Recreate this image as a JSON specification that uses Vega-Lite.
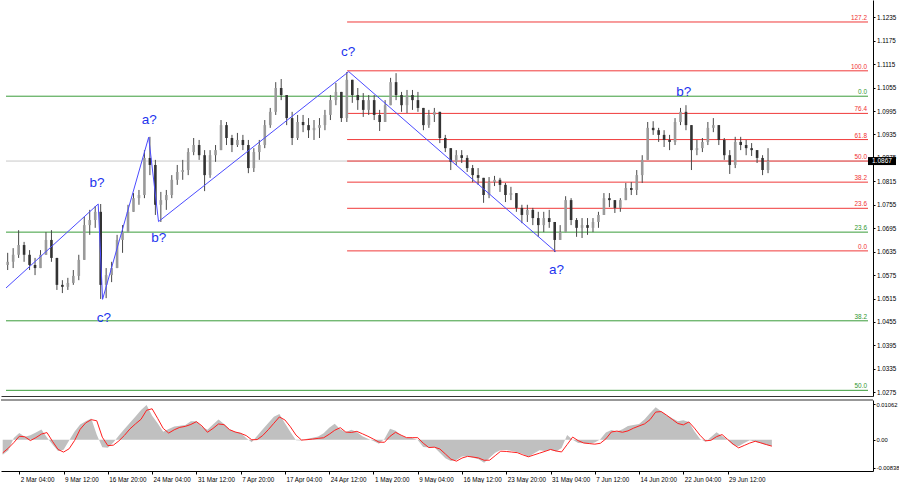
{
  "$schema": "https://vega.github.io/schema/vega-lite/v6.json",
  "padding": 0,
  "background": "white",
  "spacing": 3,
  "config": {
    "view": {"stroke": null},
    "font": "Liberation Sans",
    "axis": {"labelFont": "Liberation Sans", "labelColor": "#000", "tickColor": "#000", "domainColor": "#000", "grid": false, "title": null}
  },
  "datasets": {
    "bars": [
      {"t":20,"o":1.0601,"h":1.0632,"l":1.0588,"c":1.0609,"m":-0.00453,"s":-0.00396},
      {"t":24,"o":1.0609,"h":1.0644,"l":1.0593,"c":1.0627,"m":-0.00327,"s":-0.00258},
      {"t":28,"o":1.0627,"h":1.0690,"l":1.0619,"c":1.0652,"m":0.00051,"s":-0.0009},
      {"t":32,"o":1.0652,"h":1.0660,"l":1.0609,"c":1.0627,"m":0.00201,"s":0.00102},
      {"t":36,"o":1.0627,"h":1.0639,"l":1.0588,"c":1.0601,"m":0.00087,"s":0.00087},
      {"t":40,"o":1.0601,"h":1.0619,"l":1.0575,"c":1.0593,"m":0.00129,"s":-0.00027},
      {"t":44,"o":1.0593,"h":1.0639,"l":1.0593,"c":1.0627,"m":0.00216,"s":0.0006},
      {"t":48,"o":1.0627,"h":1.0685,"l":1.0627,"c":1.0665,"m":0.00303,"s":0.00168},
      {"t":52,"o":1.0665,"h":1.0690,"l":1.0609,"c":1.0619,"m":0.00066,"s":0.00213},
      {"t":56,"o":1.0619,"h":1.0619,"l":1.0537,"c":1.0550,"m":-0.00147,"s":-0.00051},
      {"t":60,"o":1.0550,"h":1.0562,"l":1.0529,"c":1.0545,"m":-0.00339,"s":-0.00294},
      {"t":64,"o":1.0545,"h":1.0568,"l":1.0537,"c":1.0555,"m":-0.003,"s":-0.00372},
      {"t":68,"o":1.0555,"h":1.0588,"l":1.0550,"c":1.0573,"m":-0.00027,"s":-0.00273},
      {"t":72,"o":1.0573,"h":1.0627,"l":1.0562,"c":1.0614,"m":0.00243,"s":-0.00024},
      {"t":76,"o":1.0614,"h":1.0724,"l":1.0614,"c":1.0703,"m":0.00453,"s":0.00312},
      {"t":80,"o":1.0703,"h":1.0742,"l":1.0678,"c":1.0716,"m":0.00552,"s":0.00504},
      {"t":84,"o":1.0716,"h":1.0752,"l":1.0696,"c":1.0737,"m":0.00633,"s":0.006},
      {"t":88,"o":1.0737,"h":1.0757,"l":1.0514,"c":1.0550,"m":0.00147,"s":0.00567},
      {"t":92,"o":1.0550,"h":1.0593,"l":1.0516,"c":1.0575,"m":-0.00225,"s":0.00075},
      {"t":96,"o":1.0575,"h":1.0609,"l":1.0557,"c":1.0593,"m":-0.00246,"s":-0.0018},
      {"t":100,"o":1.0593,"h":1.0678,"l":1.0593,"c":1.0665,"m":-0.00084,"s":-0.00165},
      {"t":104,"o":1.0665,"h":1.0703,"l":1.0632,"c":1.0685,"m":0.00123,"s":-0.00036},
      {"t":108,"o":1.0685,"h":1.0755,"l":1.0685,"c":1.0737,"m":0.00318,"s":0.00129},
      {"t":112,"o":1.0737,"h":1.0785,"l":1.0737,"c":1.0772,"m":0.00507,"s":0.00324},
      {"t":116,"o":1.0772,"h":1.0793,"l":1.0755,"c":1.0780,"m":0.00693,"s":0.00474},
      {"t":120,"o":1.0780,"h":1.0895,"l":1.0772,"c":1.0875,"m":0.00891,"s":0.00612},
      {"t":124,"o":1.0875,"h":1.0929,"l":1.0831,"c":1.0857,"m":0.01041,"s":0.00882},
      {"t":128,"o":1.0857,"h":1.0870,"l":1.0729,"c":1.0755,"m":0.0072,"s":0.00927},
      {"t":132,"o":1.0755,"h":1.0788,"l":1.0711,"c":1.0767,"m":0.00489,"s":0.00639},
      {"t":136,"o":1.0767,"h":1.0793,"l":1.0742,"c":1.0780,"m":0.0024,"s":0.00339},
      {"t":140,"o":1.0780,"h":1.0831,"l":1.0772,"c":1.0819,"m":0.00321,"s":0.00198},
      {"t":144,"o":1.0819,"h":1.0857,"l":1.0806,"c":1.0839,"m":0.00393,"s":0.00297},
      {"t":148,"o":1.0839,"h":1.0870,"l":1.0819,"c":1.0844,"m":0.00414,"s":0.00369},
      {"t":152,"o":1.0844,"h":1.0900,"l":1.0831,"c":1.0890,"m":0.00438,"s":0.00399},
      {"t":156,"o":1.0890,"h":1.0926,"l":1.0882,"c":1.0908,"m":0.00549,"s":0.00456},
      {"t":160,"o":1.0908,"h":1.0921,"l":1.0870,"c":1.0882,"m":0.00552,"s":0.0054},
      {"t":164,"o":1.0882,"h":1.0895,"l":1.0790,"c":1.0831,"m":0.00384,"s":0.00414},
      {"t":168,"o":1.0831,"h":1.0895,"l":1.0824,"c":1.0882,"m":0.003,"s":0.00222},
      {"t":172,"o":1.0882,"h":1.0908,"l":1.0865,"c":1.0895,"m":0.00453,"s":0.00336},
      {"t":176,"o":1.0895,"h":1.0972,"l":1.0895,"c":1.0959,"m":0.00606,"s":0.00471},
      {"t":180,"o":1.0959,"h":1.0967,"l":1.0908,"c":1.0926,"m":0.00471,"s":0.0045},
      {"t":184,"o":1.0926,"h":1.0934,"l":1.0890,"c":1.0908,"m":0.00306,"s":0.003},
      {"t":188,"o":1.0908,"h":1.0939,"l":1.0903,"c":1.0921,"m":0.00237,"s":0.00231},
      {"t":192,"o":1.0921,"h":1.0934,"l":1.0895,"c":1.0908,"m":0.00204,"s":0.00189},
      {"t":196,"o":1.0908,"h":1.0921,"l":1.0836,"c":1.0849,"m":0.00048,"s":0.00123},
      {"t":200,"o":1.0849,"h":1.0900,"l":1.0839,"c":1.0890,"m":-0.00075,"s":-0.00003},
      {"t":204,"o":1.0890,"h":1.0921,"l":1.0870,"c":1.0908,"m":0.00117,"s":0.00003},
      {"t":208,"o":1.0908,"h":1.0972,"l":1.0900,"c":1.0959,"m":0.00309,"s":0.00126},
      {"t":212,"o":1.0959,"h":1.1003,"l":1.0952,"c":1.0993,"m":0.00501,"s":0.003},
      {"t":216,"o":1.0993,"h":1.1069,"l":1.0985,"c":1.1054,"m":0.00687,"s":0.00492},
      {"t":220,"o":1.1054,"h":1.1077,"l":1.1023,"c":1.1036,"m":0.00768,"s":0.00681},
      {"t":224,"o":1.1036,"h":1.1036,"l":1.0959,"c":1.0977,"m":0.00495,"s":0.00591},
      {"t":228,"o":1.0977,"h":1.0993,"l":1.0908,"c":1.0926,"m":0.00231,"s":0.00384},
      {"t":232,"o":1.0926,"h":1.0985,"l":1.0921,"c":1.0967,"m":-0.00021,"s":0.00138},
      {"t":236,"o":1.0967,"h":1.0985,"l":1.0941,"c":1.0959,"m":-0.00024,"s":-0.00012},
      {"t":240,"o":1.0959,"h":1.0977,"l":1.0926,"c":1.0946,"m":0.00027,"s":0},
      {"t":244,"o":1.0946,"h":1.0972,"l":1.0921,"c":1.0952,"m":0.0006,"s":0.00018},
      {"t":248,"o":1.0952,"h":1.0977,"l":1.0926,"c":1.0959,"m":0.00093,"s":0.00039},
      {"t":252,"o":1.0959,"h":1.0998,"l":1.0946,"c":1.0985,"m":0.00189,"s":0.00057},
      {"t":256,"o":1.0985,"h":1.1036,"l":1.0972,"c":1.1023,"m":0.00354,"s":0.00162},
      {"t":260,"o":1.1023,"h":1.1067,"l":1.1010,"c":1.1044,"m":0.0048,"s":0.00282},
      {"t":264,"o":1.1044,"h":1.1044,"l":1.0967,"c":1.0977,"m":0.00315,"s":0.0036},
      {"t":268,"o":1.0977,"h":1.1095,"l":1.0967,"c":1.1075,"m":0.00225,"s":0.00228},
      {"t":272,"o":1.1075,"h":1.1075,"l":1.1016,"c":1.1036,"m":0.00297,"s":0.00216},
      {"t":276,"o":1.1036,"h":1.1054,"l":1.0998,"c":1.1023,"m":0.00231,"s":0.00249},
      {"t":280,"o":1.1023,"h":1.1041,"l":1.0980,"c":1.0998,"m":0.00099,"s":0.00177},
      {"t":284,"o":1.0998,"h":1.1036,"l":1.0985,"c":1.1023,"m":0.00024,"s":0.00102},
      {"t":288,"o":1.1023,"h":1.1036,"l":1.0972,"c":1.0985,"m":-0.00039,"s":0.00018},
      {"t":292,"o":1.0985,"h":1.0998,"l":1.0944,"c":1.0967,"m":-0.0012,"s":-0.00075},
      {"t":296,"o":1.0967,"h":1.1023,"l":1.0967,"c":1.1010,"m":0.0003,"s":-0.00078},
      {"t":300,"o":1.1010,"h":1.1080,"l":1.1010,"c":1.1069,"m":0.00327,"s":0.00102},
      {"t":304,"o":1.1069,"h":1.1092,"l":1.1023,"c":1.1036,"m":0.00267,"s":0.00222},
      {"t":308,"o":1.1036,"h":1.1044,"l":1.0993,"c":1.1010,"m":0.00126,"s":0.00135},
      {"t":312,"o":1.1010,"h":1.1049,"l":1.0990,"c":1.1036,"m":0.00051,"s":0.0006},
      {"t":316,"o":1.1036,"h":1.1049,"l":1.0998,"c":1.1023,"m":0.00051,"s":0.0006},
      {"t":320,"o":1.1023,"h":1.1044,"l":1.0993,"c":1.1003,"m":-0.00012,"s":0.0006},
      {"t":324,"o":1.1003,"h":1.1003,"l":1.0946,"c":1.0959,"m":-0.00219,"s":-0.00105},
      {"t":328,"o":1.0959,"h":1.0998,"l":1.0952,"c":1.0985,"m":-0.00234,"s":-0.00237},
      {"t":332,"o":1.0985,"h":1.1003,"l":1.0967,"c":1.0993,"m":-0.00228,"s":-0.00225},
      {"t":336,"o":1.0993,"h":1.0993,"l":1.0913,"c":1.0926,"m":-0.00393,"s":-0.00279},
      {"t":340,"o":1.0926,"h":1.0934,"l":1.0890,"c":1.0900,"m":-0.00558,"s":-0.00429},
      {"t":344,"o":1.0900,"h":1.0900,"l":1.0844,"c":1.0865,"m":-0.00639,"s":-0.00585},
      {"t":348,"o":1.0865,"h":1.0895,"l":1.0857,"c":1.0882,"m":-0.00612,"s":-0.00645},
      {"t":352,"o":1.0882,"h":1.0895,"l":1.0862,"c":1.0875,"m":-0.00507,"s":-0.00552},
      {"t":356,"o":1.0875,"h":1.0882,"l":1.0839,"c":1.0849,"m":-0.00495,"s":-0.00501},
      {"t":360,"o":1.0849,"h":1.0857,"l":1.0813,"c":1.0831,"m":-0.0054,"s":-0.00522},
      {"t":364,"o":1.0831,"h":1.0849,"l":1.0806,"c":1.0824,"m":-0.00588,"s":-0.00549},
      {"t":368,"o":1.0824,"h":1.0824,"l":1.0760,"c":1.0780,"m":-0.00696,"s":-0.00618},
      {"t":372,"o":1.0780,"h":1.0826,"l":1.0772,"c":1.0813,"m":-0.00543,"s":-0.00615},
      {"t":376,"o":1.0813,"h":1.0829,"l":1.0803,"c":1.0819,"m":-0.00393,"s":-0.0048},
      {"t":380,"o":1.0819,"h":1.0824,"l":1.0788,"c":1.0806,"m":-0.00309,"s":-0.00345},
      {"t":384,"o":1.0806,"h":1.0811,"l":1.0762,"c":1.0780,"m":-0.00309,"s":-0.00354},
      {"t":388,"o":1.0780,"h":1.0801,"l":1.0767,"c":1.0785,"m":-0.00342,"s":-0.00372},
      {"t":392,"o":1.0785,"h":1.0785,"l":1.0737,"c":1.0747,"m":-0.00378,"s":-0.0039},
      {"t":396,"o":1.0747,"h":1.0755,"l":1.0708,"c":1.0729,"m":-0.00429,"s":-0.00456},
      {"t":400,"o":1.0729,"h":1.0755,"l":1.0711,"c":1.0742,"m":-0.00513,"s":-0.00513},
      {"t":404,"o":1.0742,"h":1.0747,"l":1.0703,"c":1.0721,"m":-0.00414,"s":-0.00459},
      {"t":408,"o":1.0721,"h":1.0737,"l":1.0673,"c":1.0703,"m":-0.00321,"s":-0.00405},
      {"t":412,"o":1.0703,"h":1.0737,"l":1.0685,"c":1.0721,"m":-0.00339,"s":-0.00351},
      {"t":416,"o":1.0721,"h":1.0742,"l":1.0696,"c":1.0711,"m":-0.003,"s":-0.00294},
      {"t":420,"o":1.0711,"h":1.0711,"l":1.0634,"c":1.0665,"m":-0.00354,"s":-0.00339},
      {"t":424,"o":1.0665,"h":1.0703,"l":1.0665,"c":1.0685,"m":-0.00252,"s":-0.00369},
      {"t":428,"o":1.0685,"h":1.0777,"l":1.0685,"c":1.0767,"m":0.00141,"s":-0.00147},
      {"t":432,"o":1.0767,"h":1.0772,"l":1.0703,"c":1.0716,"m":-0.00006,"s":0.00078},
      {"t":436,"o":1.0716,"h":1.0721,"l":1.0673,"c":1.0696,"m":-0.00099,"s":-0.0003},
      {"t":440,"o":1.0696,"h":1.0721,"l":1.0670,"c":1.0703,"m":-0.00111,"s":-0.00099},
      {"t":444,"o":1.0703,"h":1.0721,"l":1.0678,"c":1.0696,"m":-0.00126,"s":-0.00117},
      {"t":448,"o":1.0696,"h":1.0721,"l":1.0685,"c":1.0711,"m":-0.00087,"s":-0.00135},
      {"t":452,"o":1.0711,"h":1.0737,"l":1.0696,"c":1.0729,"m":0.00009,"s":-0.00108},
      {"t":456,"o":1.0729,"h":1.0785,"l":1.0729,"c":1.0772,"m":0.00213,"s":0.00024},
      {"t":460,"o":1.0772,"h":1.0785,"l":1.0749,"c":1.0767,"m":0.00291,"s":0.00231},
      {"t":464,"o":1.0767,"h":1.0767,"l":1.0734,"c":1.0747,"m":0.00243,"s":0.00258},
      {"t":468,"o":1.0747,"h":1.0772,"l":1.0737,"c":1.0767,"m":0.00309,"s":0.00222},
      {"t":472,"o":1.0767,"h":1.0811,"l":1.0767,"c":1.0798,"m":0.00408,"s":0.00264},
      {"t":476,"o":1.0798,"h":1.0813,"l":1.0780,"c":1.0793,"m":0.00441,"s":0.00345},
      {"t":480,"o":1.0793,"h":1.0844,"l":1.0780,"c":1.0831,"m":0.00471,"s":0.00411},
      {"t":484,"o":1.0831,"h":1.0882,"l":1.0811,"c":1.0870,"m":0.00612,"s":0.00474},
      {"t":488,"o":1.0870,"h":1.0967,"l":1.0870,"c":1.0952,"m":0.00798,"s":0.00603},
      {"t":492,"o":1.0952,"h":1.0969,"l":1.0934,"c":1.0946,"m":0.00969,"s":0.00828},
      {"t":496,"o":1.0946,"h":1.0952,"l":1.0916,"c":1.0934,"m":0.00849,"s":0.00843},
      {"t":500,"o":1.0934,"h":1.0946,"l":1.0903,"c":1.0921,"m":0.00732,"s":0.00732},
      {"t":504,"o":1.0921,"h":1.0934,"l":1.0895,"c":1.0916,"m":0.00642,"s":0.00609},
      {"t":508,"o":1.0916,"h":1.0977,"l":1.0908,"c":1.0967,"m":0.00552,"s":0.00486},
      {"t":512,"o":1.0967,"h":1.1003,"l":1.0959,"c":1.0993,"m":0.00579,"s":0.00444},
      {"t":516,"o":1.0993,"h":1.1010,"l":1.0946,"c":1.0959,"m":0.00528,"s":0.00531},
      {"t":520,"o":1.0959,"h":1.0959,"l":1.0844,"c":1.0895,"m":0.00249,"s":0.00348},
      {"t":524,"o":1.0895,"h":1.0921,"l":1.0882,"c":1.0900,"m":0.00024,"s":0.00135},
      {"t":528,"o":1.0900,"h":1.0926,"l":1.0890,"c":1.0916,"m":-0.0006,"s":-0.00036},
      {"t":532,"o":1.0916,"h":1.0967,"l":1.0908,"c":1.0952,"m":0.00078,"s":-0.00018},
      {"t":536,"o":1.0952,"h":1.0977,"l":1.0941,"c":1.0959,"m":0.00222,"s":0.0009},
      {"t":540,"o":1.0959,"h":1.0959,"l":1.0908,"c":1.0921,"m":0.00111,"s":0.00153},
      {"t":544,"o":1.0921,"h":1.0926,"l":1.0870,"c":1.0882,"m":0,"s":0.00009},
      {"t":548,"o":1.0882,"h":1.0895,"l":1.0834,"c":1.0857,"m":-0.00159,"s":-0.00135},
      {"t":552,"o":1.0857,"h":1.0929,"l":1.0849,"c":1.0916,"m":-0.00201,"s":-0.00246},
      {"t":556,"o":1.0916,"h":1.0929,"l":1.0895,"c":1.0908,"m":-0.00099,"s":-0.00174},
      {"t":560,"o":1.0908,"h":1.0921,"l":1.0882,"c":1.0900,"m":-0.00015,"s":-0.00102},
      {"t":564,"o":1.0900,"h":1.0913,"l":1.0880,"c":1.0895,"m":-0.00063,"s":-0.00048},
      {"t":568,"o":1.0895,"h":1.0895,"l":1.0862,"c":1.0875,"m":-0.00111,"s":-0.00096},
      {"t":572,"o":1.0875,"h":1.0882,"l":1.0831,"c":1.0844,"m":-0.00159,"s":-0.00147},
      {"t":576,"o":1.0844,"h":1.0900,"l":1.0836,"c":1.0867,"m":-0.00189,"s":-0.00195}
    ],
    "fibR": [
      {"t0":268.2,"p":1.1223,"lbl":"127.2"},
      {"t0":268.2,"p":1.1098,"lbl":"100.0"},
      {"t0":268.2,"p":1.0989,"lbl":"76.4"},
      {"t0":268.2,"p":1.0922,"lbl":"61.8"},
      {"t0":268.2,"p":1.0867,"lbl":"50.0"},
      {"t0":268.2,"p":1.0813,"lbl":"38.2"},
      {"t0":268.2,"p":1.0746,"lbl":"23.6"},
      {"t0":268.2,"p":1.0637,"lbl":"0.0"}
    ],
    "fibG": [
      {"t0":18.77,"p":1.1033,"lbl":"0.0"},
      {"t0":18.77,"p":1.0685,"lbl":"23.6"},
      {"t0":18.77,"p":1.0458,"lbl":"38.2"},
      {"t0":18.77,"p":1.0280,"lbl":"50.0"}
    ],
    "wave": [
      {"k":1,"t":18.77,"p":1.0542},
      {"k":2,"t":86.2,"p":1.0757},
      {"k":3,"t":89.4,"p":1.0513},
      {"k":4,"t":123.1,"p":1.0928},
      {"k":5,"t":130.3,"p":1.0712},
      {"k":6,"t":269.4,"p":1.1096},
      {"k":7,"t":420.7,"p":1.0635}
    ],
    "waveLbl": [
      {"t":85.3,"p":1.0811,"lbl":"b?"},
      {"t":90.3,"p":1.0465,"lbl":"c?"},
      {"t":123.6,"p":1.0971,"lbl":"a?"},
      {"t":130.5,"p":1.0670,"lbl":"b?"},
      {"t":268.9,"p":1.1147,"lbl":"c?"},
      {"t":421.4,"p":1.0588,"lbl":"a?"},
      {"t":514.3,"p":1.1044,"lbl":"b?"}
    ]
  },
  "vconcat": [
    {
      "width": 872,
      "height": 396,
      "layer": [
        {
          "data": {"name": "fibG"},
          "mark": {"type": "rule", "color": "#3a9c3a", "strokeWidth": 1, "clip": true},
          "encoding": {
            "x": {"field": "t0", "type": "quantitative", "scale": {"domain": [18.77, 649.1], "nice": false, "zero": false},
                  "axis": {"orient": "bottom", "labels": false, "ticks": false, "domain": true, "domainColor": "#333", "title": null, "grid": false}},
            "x2": {"datum": 649.1},
            "y": {"field": "p", "type": "quantitative", "scale": {"domain": [1.02655, 1.12793], "nice": false, "zero": false},
                  "axis": {"orient": "right", "values": [1.1235,1.1175,1.1115,1.1055,1.0995,1.0935,1.0875,1.0815,1.0755,1.0695,1.0635,1.0575,1.0515,1.0455,1.0395,1.0335,1.0275],
                           "tickCount": 100, "format": ".4f", "title": null, "grid": false, "tickSize": 2, "labelFontSize": 6.3, "labelPadding": 1.5, "labelOverlap": false, "labelFlush": false, "domainColor": "#000"}}
          }
        },
        {
          "data": {"values": [{"t0": 18.77, "p": 1.0867}]},
          "mark": {"type": "rule", "color": "#c8c8c8", "strokeWidth": 1, "clip": true},
          "encoding": {
            "x": {"field": "t0", "type": "quantitative"},
            "x2": {"datum": 649.1},
            "y": {"field": "p", "type": "quantitative"}
          }
        },
        {
          "data": {"name": "fibR"},
          "mark": {"type": "rule", "color": "#f03a3a", "strokeWidth": 1, "clip": true},
          "encoding": {
            "x": {"field": "t0", "type": "quantitative"},
            "x2": {"datum": 649.1},
            "y": {"field": "p", "type": "quantitative"}
          }
        },
        {
          "data": {"name": "fibR"},
          "mark": {"type": "text", "color": "#f03030", "fontSize": 6.4, "align": "right", "baseline": "bottom", "dx": -1, "dy": -1},
          "encoding": {
            "x": {"datum": 649.1},
            "y": {"field": "p", "type": "quantitative"},
            "text": {"field": "lbl"}
          }
        },
        {
          "data": {"name": "fibG"},
          "mark": {"type": "text", "color": "#2e962e", "fontSize": 6.4, "align": "right", "baseline": "bottom", "dx": -1, "dy": -1},
          "encoding": {
            "x": {"datum": 649.1},
            "y": {"field": "p", "type": "quantitative"},
            "text": {"field": "lbl"}
          }
        },
        {
          "data": {"name": "bars"},
          "mark": {"type": "rule", "color": "#484848", "strokeWidth": 1, "clip": true},
          "encoding": {
            "x": {"field": "t", "type": "quantitative"},
            "y": {"field": "l", "type": "quantitative"},
            "y2": {"field": "h"}
          }
        },
        {
          "data": {"name": "bars"},
          "mark": {"type": "bar", "size": 2.6, "clip": true},
          "encoding": {
            "x": {"field": "t", "type": "quantitative"},
            "y": {"field": "o", "type": "quantitative"},
            "y2": {"field": "c"},
            "color": {"condition": {"test": "datum.c >= datum.o", "value": "#9a9a9a"}, "value": "#333333"}
          }
        },
        {
          "data": {"name": "wave"},
          "mark": {"type": "line", "color": "#4b4bff", "strokeWidth": 1, "clip": true},
          "encoding": {
            "x": {"field": "t", "type": "quantitative"},
            "y": {"field": "p", "type": "quantitative"},
            "order": {"field": "k", "type": "quantitative"}
          }
        },
        {
          "data": {"name": "waveLbl"},
          "mark": {"type": "text", "color": "#2233ee", "fontSize": 13.5, "align": "center", "baseline": "middle"},
          "encoding": {
            "x": {"field": "t", "type": "quantitative"},
            "y": {"field": "p", "type": "quantitative"},
            "text": {"field": "lbl"}
          }
        },
        {
          "data": {"values": [{"p": 1.0867}]},
          "mark": {"type": "rect", "color": "#000", "clip": false, "x2Offset": 28, "yOffset": -4, "y2Offset": 4},
          "encoding": {
            "x": {"datum": 649.1},
            "x2": {"datum": 649.1},
            "y": {"field": "p", "type": "quantitative"},
            "y2": {"field": "p"}
          }
        },
        {
          "data": {"values": [{"p": 1.0867}]},
          "mark": {"type": "text", "color": "#ffffff", "fontSize": 6.5, "align": "left", "baseline": "middle", "dx": 4},
          "encoding": {
            "x": {"datum": 649.1},
            "y": {"field": "p", "type": "quantitative"},
            "text": {"value": "1.0867"}
          }
        }
      ]
    },
    {
      "width": 872,
      "height": 71,
      "layer": [
        {
          "data": {"name": "bars"},
          "mark": {"type": "area", "color": "#c0c0c0", "clip": true},
          "encoding": {
            "x": {"field": "t", "type": "quantitative", "scale": {"domain": [18.77, 649.1], "nice": false, "zero": false},
                  "axis": {"orient": "bottom", "values": [32,64,96,128,160,192,224,256,288,320,352,384,416,448,480,512,544], "tickCount": 100,
                           "labelExpr": "['2 Mar 04:00','9 Mar 12:00','16 Mar 20:00','24 Mar 04:00','31 Mar 12:00','7 Apr 20:00','17 Apr 04:00','24 Apr 12:00','1 May 20:00','9 May 04:00','16 May 12:00','23 May 20:00','31 May 04:00','7 Jun 12:00','14 Jun 20:00','22 Jun 04:00','29 Jun 12:00'][round(datum.value/32)-1]",
                           "labelAlign": "left", "labelOffset": 1, "labelPadding": 2, "tickSize": 3, "labelFontSize": 6.3, "labelFlush": false, "labelOverlap": false, "title": null, "grid": false, "domainColor": "#000"}},
            "y": {"field": "m", "type": "quantitative", "scale": {"domain": [-0.0094, 0.0119], "nice": false, "zero": false},
                  "axis": {"orient": "right", "values": [0.01062, 0, -0.00838], "tickCount": 100,
                           "labelExpr": "datum.value > 0.001 ? '0.01062' : (datum.value < -0.001 ? '-0.00838' : '0.00')",
                           "title": null, "grid": false, "tickSize": 2, "labelFontSize": 5.8, "labelPadding": 1, "labelOverlap": false, "labelFlush": false, "domainColor": "#000"}},
            "y2": {"datum": 0}
          }
        },
        {
          "data": {"name": "bars"},
          "mark": {"type": "line", "color": "#ff2020", "strokeWidth": 1, "clip": true},
          "encoding": {
            "x": {"field": "t", "type": "quantitative"},
            "y": {"field": "s", "type": "quantitative"}
          }
        },
        {
          "data": {"values": [{"t0": 18.77, "v": 0.0119}]},
          "mark": {"type": "rule", "color": "#333", "strokeWidth": 1},
          "encoding": {
            "x": {"field": "t0", "type": "quantitative"},
            "x2": {"datum": 649.1},
            "y": {"field": "v", "type": "quantitative"}
          }
        }
      ]
    }
  ]
}
